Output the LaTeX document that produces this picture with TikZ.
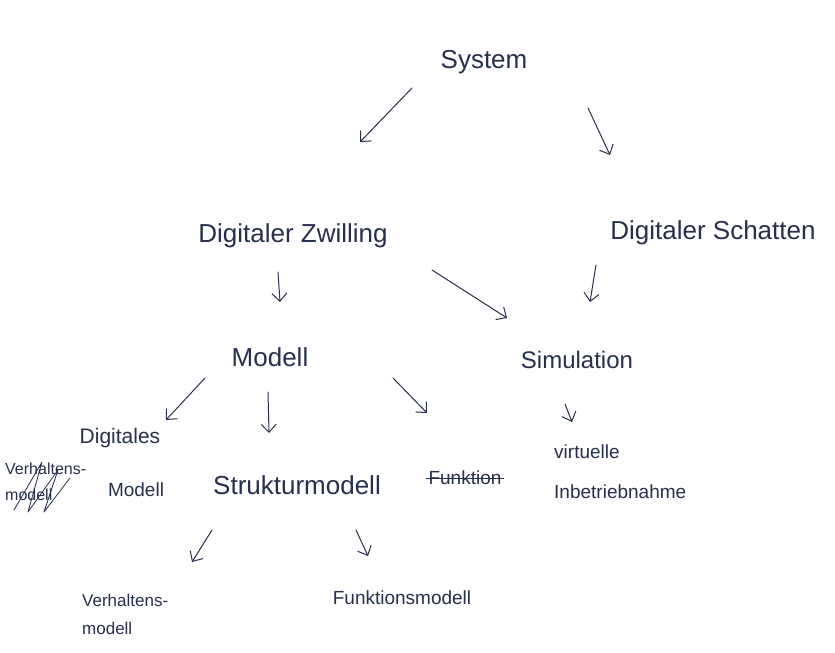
\documentclass[tikz,border=0pt]{standalone}
\usepackage{fontspec}
\setmainfont{Liberation Sans}
\usetikzlibrary{arrows.meta}
\definecolor{ink}{HTML}{27304A}
\begin{document}
\begin{tikzpicture}[x=1pt,y=-1pt,
  lbl/.style={text=ink, font=\fontsize{26}{30}\selectfont, inner sep=2pt},
  sml/.style={text=ink, font=\fontsize{19}{28}\selectfont, inner sep=2pt},
  arr/.style={draw=ink, line width=1pt, line cap=round, -{Straight Barb[length=8pt,width=15pt]}},
  strike/.style={draw=ink, line width=0.8pt, line cap=round, line join=round}]
\useasboundingbox[fill=white] (0,0) rectangle (835,653);
% nodes
\node[lbl] (sys) at (484,62) {System};
\node[lbl] (dz) at (293,236) {Digitaler Zwilling};
\node[lbl] (ds) at (713,233) {Digitaler Schatten};
\node[lbl] (mod) at (270,357) {Modell};
\node[lbl, font=\fontsize{24}{28}\selectfont] (sim) at (577,360) {Simulation};
\node[sml, font=\fontsize{21}{28}\selectfont] (dma) at (120,438) {Digitales};
\node[sml] (dmb) at (136,490) {Modell};
\node[sml, font=\fontsize{16}{26}\selectfont, align=left, anchor=west] (vx) at (3,482) {Verhaltens-\\modell};
\node[lbl] (sm) at (297,485) {Strukturmodell};
\node[sml] (fx) at (465,478) {Funktion};
\node[sml, font=\fontsize{19}{40}\selectfont, align=left, anchor=west] (vi) at (552,472) {virtuelle\\Inbetriebnahme};
\node[sml, font=\fontsize{17}{28}\selectfont, align=left, anchor=west] (vm) at (80,614) {Verhaltens-\\modell};
\node[sml] (fm) at (402,598) {Funktionsmodell};
% crossings-out
\draw[strike] (fx.west) -- (fx.east);
\draw[strike] (14,510) -- (42,462) -- (28,512) -- (58,470) -- (44,512) -- (70,478);
% arrow end points
\coordinate (a1s) at (412,88);  \coordinate (a1e) at (360,142);
\coordinate (a2s) at (588,108); \coordinate (a2e) at (610,155);
\coordinate (a3s) at (278,272); \coordinate (a3e) at (280,302);
\coordinate (a4s) at (432,270); \coordinate (a4e) at (507,318);
\coordinate (a5s) at (596,265); \coordinate (a5e) at (590,302);
\coordinate (a6s) at (205,378); \coordinate (a6e) at (166,420);
\coordinate (a7s) at (268,392); \coordinate (a7e) at (269,433);
\coordinate (a8s) at (393,378); \coordinate (a8e) at (427,413);
\coordinate (a9s) at (565,404); \coordinate (a9e) at (572,422);
\coordinate (a10s) at (212,530); \coordinate (a10e) at (192,562);
\coordinate (a11s) at (356,530); \coordinate (a11e) at (368,556);
% connectors
\draw[arr] (a1s) -- (a1e);
\draw[arr] (a2s) -- (a2e);
\draw[arr] (a3s) -- (a3e);
\draw[arr] (a4s) -- (a4e);
\draw[arr] (a5s) -- (a5e);
\draw[arr] (a6s) -- (a6e);
\draw[arr] (a7s) -- (a7e);
\draw[arr] (a8s) -- (a8e);
\draw[arr] (a9s) -- (a9e);
\draw[arr] (a10s) -- (a10e);
\draw[arr] (a11s) -- (a11e);
\end{tikzpicture}
\end{document}
